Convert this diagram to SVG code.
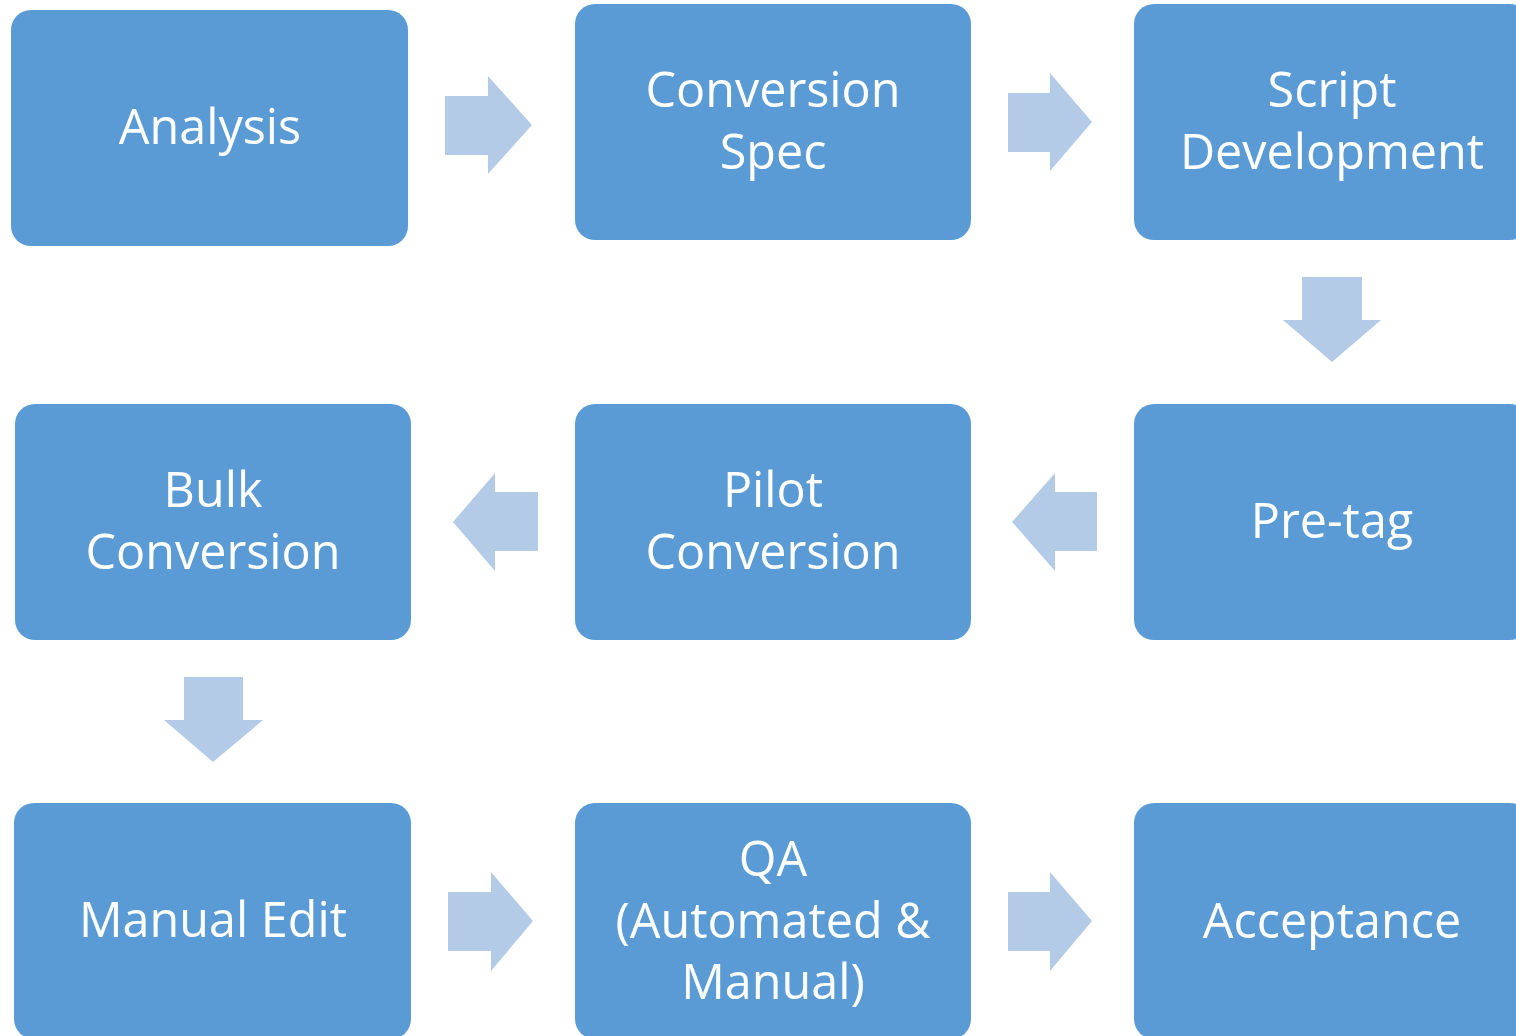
<svg xmlns="http://www.w3.org/2000/svg" width="1516" height="1036" viewBox="0 0 1516 1036">
<style>
.box{fill:#5B9BD5}
.lbl{fill:#FFFFFF;font-family:"Open Sans","Noto Sans","Liberation Sans",sans-serif;font-size:48.5px;text-anchor:middle}
.arr{fill:#B4CBE8}
</style>
<rect width="1516" height="1036" fill="#FFFFFF"/>
<g id="connectors">
<polygon class="arr" points="445,96 488,96 488,76 532,125 488,174 488,155 445,155"/>
<polygon class="arr" points="1008,93 1050,93 1050,73 1092,122 1050,171 1050,152 1008,152"/>
<polygon class="arr" points="1302,277 1362,277 1362,320 1381,320 1332,362 1283,320 1302,320"/>
<polygon class="arr" points="1097,492 1055,492 1055,473 1012,522 1055,571 1055,551 1097,551"/>
<polygon class="arr" points="538,492 495,492 495,473 453,522 495,571 495,551 538,551"/>
<polygon class="arr" points="184,677 243,677 243,720 263,720 213,762 164,720 184,720"/>
<polygon class="arr" points="448,892 491,892 491,872 533,921 491,971 491,951 448,951"/>
<polygon class="arr" points="1008,892 1050,892 1050,872 1092,921 1050,971 1050,951 1008,951"/>
</g>
<g id="analysis"><rect class="box" x="11" y="10" width="397" height="236" rx="20"/><text class="lbl" x="210" y="144">Analysis</text></g>
<g id="conversion-spec"><rect class="box" x="575" y="4" width="396" height="236" rx="20"/><text class="lbl" x="773" y="107">Conversion</text><text class="lbl" x="773" y="169">Spec</text></g>
<g id="script-development"><rect class="box" x="1134" y="4" width="396" height="236" rx="20"/><text class="lbl" x="1332" y="107">Script</text><text class="lbl" x="1332" y="169">Development</text></g>
<g id="pre-tag"><rect class="box" x="1134" y="404" width="396" height="236" rx="20"/><text class="lbl" x="1332" y="538">Pre-tag</text></g>
<g id="pilot-conversion"><rect class="box" x="575" y="404" width="396" height="236" rx="20"/><text class="lbl" x="773" y="507">Pilot</text><text class="lbl" x="773" y="569">Conversion</text></g>
<g id="bulk-conversion"><rect class="box" x="15" y="404" width="396" height="236" rx="20"/><text class="lbl" x="213" y="507">Bulk</text><text class="lbl" x="213" y="569">Conversion</text></g>
<g id="manual-edit"><rect class="box" x="14" y="803" width="397" height="236" rx="20"/><text class="lbl" x="213" y="937">Manual Edit</text></g>
<g id="qa"><rect class="box" x="575" y="803" width="396" height="236" rx="20"/><text class="lbl" x="773" y="876">QA</text><text class="lbl" x="773" y="938">(Automated &amp;</text><text class="lbl" x="773" y="999">Manual)</text></g>
<g id="acceptance"><rect class="box" x="1134" y="803" width="396" height="236" rx="20"/><text class="lbl" x="1332" y="938">Acceptance</text></g>
</svg>
